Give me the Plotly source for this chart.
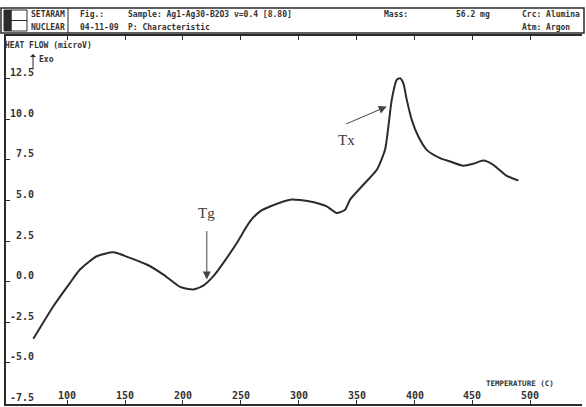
import plotly.graph_objects as go

# ---- data ----
temperature = [70.8, 88.1, 102.5, 111.1, 125.6, 139.9, 154.3, 168.7, 183.1, 197.5,
               209.0, 217.6, 226.3, 234.9, 246.5, 257.9, 266.6, 275.2, 292.5, 309.8,
               324.2, 332.8, 340.0, 344.3, 355.8, 367.4, 374.5, 377.4, 380.3, 384.6,
               387.5, 390.3, 393.3, 397.6, 403.3, 410.5, 422.0, 430.7, 442.1, 450.8,
               459.4, 468.0, 479.6, 489.6]
heat_flow = [-3.53, -1.52, -0.08, 0.74, 1.56, 1.80, 1.46, 1.05, 0.43, -0.33,
             -0.49, -0.25, 0.33, 1.15, 2.38, 3.71, 4.33, 4.63, 5.05, 4.94,
             4.63, 4.23, 4.43, 5.05, 5.97, 6.89, 8.12, 9.56, 11.2, 12.43,
             12.54, 12.23, 11.2, 9.97, 8.94, 8.12, 7.61, 7.40, 7.14, 7.26,
             7.46, 7.2, 6.52, 6.23]

x_ticks = [100, 150, 200, 250, 300, 350, 400, 450, 500]
x_tick_labels = ["100", "150", "200", "250", "300", "350", "400", "450", "500"]
y_ticks = [-7.5, -5.0, -2.5, 0.0, 2.5, 5.0, 7.5, 10.0, 12.5]
y_tick_labels = ["-7.5", "-5.0", "-2.5", "0.0", "2.5", "5.0", "7.5", "10.0", "12.5"]

tg_point = (220.6, 0.12)
tx_point = (376.0, 10.79)

W, H = 586, 407
L, R, T, B = 6, 4, 36, 3
pw, ph = W - L - R, H - T - B


def xp(px):
    return (px - L) / pw


def yp(py):
    return (H - B - py) / ph


INK = "#2b2b2b"
TXT = "#333333"
mono = dict(family="DejaVu Sans Mono", size=8, color=TXT, weight="bold")
tickfont = dict(family="DejaVu Sans Mono", size=10, color=TXT, weight="bold")

fig = go.Figure()
fig.add_trace(go.Scatter(x=temperature, y=heat_flow, mode="lines",
                         line=dict(color=INK, width=2, shape="spline", smoothing=0.6),
                         hoverinfo="skip", showlegend=False))

shapes = [
    dict(type="rect", xref="paper", yref="paper", x0=xp(1), x1=xp(584), y0=yp(33), y1=yp(8),
         line=dict(color=INK, width=1.5)),
    dict(type="rect", xref="paper", yref="paper", x0=xp(4), x1=xp(11), y0=yp(31), y1=yp(10),
         fillcolor=INK, line=dict(color=INK, width=1)),
    dict(type="rect", xref="paper", yref="paper", x0=xp(11), x1=xp(27), y0=yp(31), y1=yp(10),
         line=dict(color=INK, width=1)),
    dict(type="line", xref="paper", yref="paper", x0=xp(11), x1=xp(27), y0=yp(20.5), y1=yp(20.5),
         line=dict(color=INK, width=1)),
    dict(type="line", xref="paper", yref="paper", x0=xp(68), x1=xp(68), y0=yp(33), y1=yp(8),
         line=dict(color=INK, width=1)),
]

annotations = []


def txt(text, px, py, font=None, anchor="left"):
    annotations.append(dict(text=text, xref="paper", yref="paper", x=xp(px), y=yp(py),
                            xanchor=anchor, yanchor="middle", showarrow=False,
                            font=font or mono))


txt("SETARAM", 29, 14)
txt("NUCLEAR", 29, 27)
txt("Fig.:", 78, 14)
txt("04-11-09", 78, 27)
txt("Sample: Ag1-Ag30-B2O3 v=0.4 [8.80]", 126, 14)
txt("P: Characteristic", 126, 27)
txt("Mass:", 382, 14)
txt("56.2 mg", 454, 14)
txt("Crc: Alumina", 520, 14)
txt("Atm: Argon", 520, 27)
txt("HEAT FLOW (microV)", 3, 45)
txt("Exo", 37, 60)
txt("TEMPERATURE (C)", 484, 383, font=dict(family="DejaVu Sans Mono", size=7.5,
                                            color=TXT, weight="bold"))

# tick labels drawn beside the axis ticks
for v, lab in zip(y_ticks, y_tick_labels):
    annotations.append(dict(text=lab, xref="paper", yref="y", x=xp(36), y=v,
                            xanchor="right", yanchor="middle", yshift=6,
                            showarrow=False, font=tickfont))
for v, lab in zip(x_ticks, x_tick_labels):
    annotations.append(dict(text=lab, xref="x", yref="paper", x=v, y=yp(395),
                            xanchor="center", yanchor="middle",
                            showarrow=False, font=tickfont))

# Exo arrow
annotations.append(dict(text="", xref="paper", yref="paper", x=xp(33), y=yp(54),
                        ax=0, ay=17, showarrow=True, arrowhead=1, arrowsize=1,
                        arrowwidth=1, arrowcolor=INK))

serif = dict(family="Liberation Serif", size=15, color="#3a3a3a")
annotations.append(dict(text="", x=tg_point[0], y=tg_point[1], xref="x", yref="y",
                        ax=0, ay=-50, showarrow=True, arrowhead=2, arrowsize=1.6,
                        arrowwidth=1, arrowcolor="#444444"))
annotations.append(dict(text="Tg", x=220.6, y=4.25, xref="x", yref="y",
                        showarrow=False, font=serif))
annotations.append(dict(text="", x=tx_point[0], y=tx_point[1], xref="x", yref="y",
                        ax=-42, ay=18, showarrow=True, arrowhead=2, arrowsize=1.6,
                        arrowwidth=1, arrowcolor="#444444"))
annotations.append(dict(text="Tx", x=341.4, y=8.74, xref="x", yref="y",
                        showarrow=False, font=serif))

fig.update_layout(
    width=W, height=H,
    margin=dict(l=L, r=R, t=T, b=B, pad=0),
    paper_bgcolor="white", plot_bgcolor="white",
    shapes=shapes, annotations=annotations,
    xaxis=dict(range=[47.2, 544.6], tickvals=x_ticks, showticklabels=False,
               ticks="inside", ticklen=4, tickwidth=1, tickcolor=INK,
               showline=True, linecolor=INK, linewidth=1.5, mirror="ticks",
               showgrid=False, zeroline=False, fixedrange=True),
    yaxis=dict(range=[-7.55, 15.14], tickvals=y_ticks, showticklabels=False,
               ticks="inside", ticklen=4, tickwidth=1, tickcolor=INK,
               showline=True, linecolor=INK, linewidth=2,
               showgrid=False, zeroline=False, fixedrange=True),
)

fig.write_html("out.html", config={"displayModeBar": False},
               post_script="document.body.style.margin='0';document.body.style.overflow='hidden';")
